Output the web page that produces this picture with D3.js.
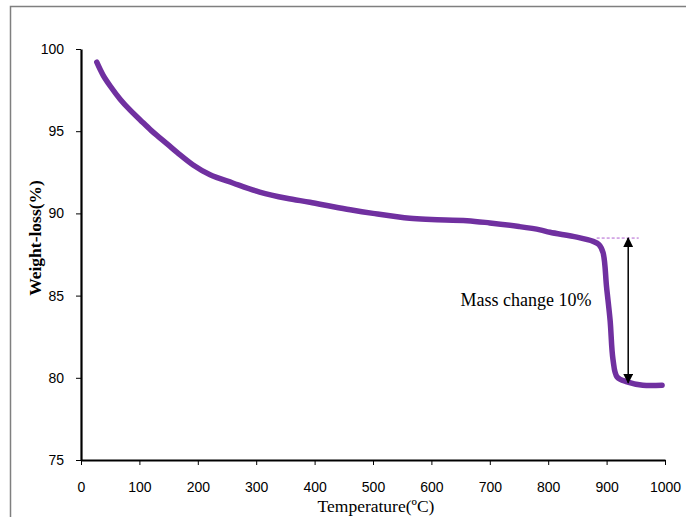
<!DOCTYPE html>
<html><head><meta charset="utf-8">
<script src="https://cdn.jsdelivr.net/npm/d3@7"></script>
<style>body{margin:0;background:#fff}svg{display:block}</style>
</head><body>
<svg id="c" width="686" height="517"></svg>
<script>
const temperature = [27, 38, 50, 67, 85, 101, 120, 135, 150, 165, 192, 221, 260, 306, 352, 392, 430, 461, 500, 563, 600, 661, 700, 750, 786, 803, 849, 877, 887, 894, 900, 906, 911, 918, 935, 962, 995];
const weight = [99.2, 98.4, 97.75, 96.95, 96.25, 95.7, 95.05, 94.6, 94.15, 93.7, 92.95, 92.35, 91.85, 91.3, 90.92, 90.68, 90.42, 90.22, 90.0, 89.7, 89.63, 89.56, 89.42, 89.2, 89.0, 88.85, 88.56, 88.3, 88.1, 87.6, 85.5, 83.5, 81.1, 80.05, 79.75, 79.55, 79.55];
const xTicks = [0, 100, 200, 300, 400, 500, 600, 700, 800, 900, 1000];
const yTicks = [75, 80, 85, 90, 95, 100];
const annotation = {text: "Mass change 10%", t: 937, top: 88.5, bottom: 79.7, dashFrom: 883, dashTo: 955};

const svg = d3.select("#c");
const x = d3.scaleLinear().domain([0, 1000]).range([81, 665]);
const y = d3.scaleLinear().domain([75, 100]).range([460, 49]);

svg.append("rect").attr("x", 10.5).attr("y", 6.5).attr("width", 700).attr("height", 540)
  .attr("fill", "none").attr("stroke", "#7f7f7f").attr("stroke-width", 1.5);

const xa = svg.append("g").attr("transform", "translate(0,460)")
  .call(d3.axisBottom(x).tickValues(xTicks).tickSize(5).tickPadding(17).tickSizeOuter(0).tickFormat(d3.format("d")));
const ya = svg.append("g").attr("transform", "translate(81,0)")
  .call(d3.axisLeft(y).tickValues(yTicks).tickSize(5).tickPadding(12).tickSizeOuter(0).tickFormat(d3.format("d")));
[xa, ya].forEach(a => {
  a.select(".domain").attr("stroke", "#000").attr("stroke-width", 2.2);
  a.selectAll(".tick line").attr("stroke", "#000").attr("stroke-width", 1);
  a.selectAll("text").attr("font-family", "Liberation Sans, Arial, sans-serif").attr("font-size", 14).attr("fill", "#000");
});

const pts = temperature.map((t, i) => [t, weight[i]]);
svg.append("path").datum(pts)
  .attr("d", d3.line().x(d => x(d[0])).y(d => y(d[1])).curve(d3.curveCatmullRom.alpha(0.5)))
  .attr("fill", "none").attr("stroke", "#7030A0").attr("stroke-width", 5.5)
  .attr("stroke-linecap", "round").attr("stroke-linejoin", "round");

svg.append("line").attr("x1", x(annotation.dashFrom)).attr("x2", x(annotation.dashTo))
  .attr("y1", y(annotation.top)).attr("y2", y(annotation.top))
  .attr("stroke", "#b060d0").attr("stroke-width", 1).attr("stroke-dasharray", "3,2");

const defs = svg.append("defs");
defs.append("marker").attr("id", "ah").attr("viewBox", "0 0 10 10").attr("refX", 9).attr("refY", 5)
  .attr("markerWidth", 10).attr("markerHeight", 10).attr("markerUnits", "userSpaceOnUse").attr("orient", "auto-start-reverse")
  .append("path").attr("d", "M0,0 L10,5 L0,10 Z").attr("fill", "#000");
svg.append("line").attr("x1", x(annotation.t)).attr("x2", x(annotation.t))
  .attr("y1", y(annotation.top)).attr("y2", y(annotation.bottom))
  .attr("stroke", "#000").attr("stroke-width", 1.5)
  .attr("marker-start", "url(#ah)").attr("marker-end", "url(#ah)");

svg.append("text").attr("x", 526).attr("y", 306).attr("text-anchor", "middle")
  .attr("font-family", "Liberation Serif, Times New Roman, serif").attr("font-size", 18).text(annotation.text);

svg.append("text").attr("x", 376).attr("y", 512).attr("text-anchor", "middle")
  .attr("font-family", "Liberation Serif, Times New Roman, serif").attr("font-size", 17.5).text("Temperature(ºC)");

svg.append("text").attr("transform", "translate(41,238) rotate(-90)").attr("text-anchor", "middle")
  .attr("font-family", "Liberation Serif, Times New Roman, serif").attr("font-size", 17.5).attr("font-weight", "bold")
  .text("Weight-loss(%)");
</script>
</body></html>
